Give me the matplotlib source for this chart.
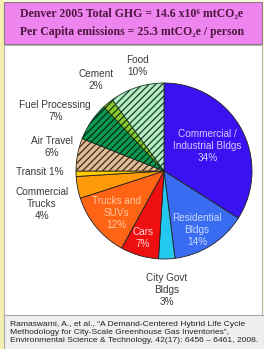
import matplotlib
matplotlib.use("Agg")
import matplotlib.pyplot as plt
from matplotlib.patches import Rectangle
import numpy as np

# ---- data ----
categories = ["Commercial /\nIndustrial Bldgs", "Residential\nBldgs", "City Govt\nBldgs", "Cars",
              "Trucks and\nSUVs", "Commercial\nTrucks", "Transit", "Air Travel",
              "Fuel Processing", "Cement", "Food"]
shares = [34, 14, 3, 7, 12, 4, 1, 6, 7, 2, 10]
title_lines = ["Denver 2005 Total GHG = 14.6 x10\u2076 mtCO\u2082e",
               "Per Capita emissions = 25.3 mtCO\u2082e / person"]
caption = ("Ramaswami, A., et al., \u201cA Demand-Centered Hybrid Life Cycle\n"
           "Methodology for City-Scale Greenhouse Gas Inventories\u201d,\n"
           "Environmental Science & Technology, 42(17): 6456 \u2013 6461, 2008.")

# ---- styles ----
colors = ["#3a12f2", "#3a6cf2", "#22c8ee", "#ee1010", "#ff6414", "#ff9a08", "#ffcc00",
          "#e2bc96", "#0a9a50", "#88cc30", "#b4ecc4"]
hatches = [None, None, None, None, None, None, None, "/////", "/////", "/////", "/////"]
hatch_cols = [None] * 7 + ["#3a2a1a", "#06281a", "#20300a", "#1a3a25"]
label_r = [0.57, 0.77, 1.35, 0.80, 0.72, 1.44, 1.41, 1.30, 1.41, 1.29, 1.23]
label_dang = [1.2, -3.2, -0.4, -1.2, 2.2, 4.3, -1.3, -1.3, 5.4, -2.8, -3.6]
label_col = ["#d4ccff", "#c8d8ff", "#3a3a3a", "#ffd0d0", "#ffc8a0", "#3a3a3a", "#3a3a3a",
             "#3a3a3a", "#3a3a3a", "#3a3a3a", "#3a3a3a"]

W, H = 264, 349
plt.rcParams['font.family'] = ['Liberation Sans', 'DejaVu Sans']
plt.rcParams['hatch.linewidth'] = 0.9
fig = plt.figure(figsize=(W / 100, H / 100), dpi=100)
fig.patch.set_facecolor("#fbf8dc")

def fx(x):
    return x / W

def fy(y):
    return 1 - y / H

# backgrounds
fig.patches.append(Rectangle((fx(0), fy(H)), fx(4), 1, transform=fig.transFigure,
                             facecolor="#f4eeb0", edgecolor="none", zorder=0))
fig.patches.append(Rectangle((fx(4), fy(315)), fx(258), (315 - 45) / H, transform=fig.transFigure,
                             facecolor="white", edgecolor="#b8b8b0", linewidth=0.8, zorder=1))
fig.patches.append(Rectangle((fx(4), fy(349)), fx(260), 34 / H, transform=fig.transFigure,
                             facecolor="#efefef", edgecolor="#a8a8a8", linewidth=0.8, zorder=1))
fig.patches.append(Rectangle((fx(4), fy(44)), fx(258), 42 / H, transform=fig.transFigure,
                             facecolor="#ee84ee", edgecolor="#8a7a8a", linewidth=0.8, zorder=2))

renderer = fig.canvas.get_renderer()
for i, (line, yy) in enumerate(zip(title_lines, [14, 32])):
    t = fig.text(0.5, fy(yy), line, ha="center", va="center", fontsize=7,
                 family=["Liberation Serif", "DejaVu Serif"], fontweight="bold",
                 color="#4e1640", zorder=3)
    w = t.get_window_extent(renderer).width
    t.set_fontsize(7 * (224 if i == 0 else 226) / w)

fig.text(fx(10), fy(332.5), caption, ha="left", va="center", fontsize=6.1,
         color="#222222", linespacing=1.25, zorder=3)

# pie axes
cx, cy, R = 164, 171, 88
ax = fig.add_axes([fx(cx - R), fy(cy + R), 2 * R / W, 2 * R / H])
ax.set_zorder(5)
wedges, _ = ax.pie(shares, colors=colors, startangle=90, counterclock=False, radius=1,
                   wedgeprops=dict(linewidth=0.6, edgecolor="#202020"))
for w, h, hc in zip(wedges, hatches, hatch_cols):
    if h:
        w.set_hatch(h)
        w.set_edgecolor(hc)
ax.set_xlim(-1, 1)
ax.set_ylim(-1, 1)
ax.set_aspect("equal")
ax.axis("off")

for w, lab, s, r, da, col in zip(wedges, categories, shares, label_r, label_dang, label_col):
    mid = np.deg2rad((w.theta1 + w.theta2) / 2 + da)
    txt = f"{lab} {s}%" if lab == "Transit" else f"{lab}\n{s}%"
    ax.text(r * np.cos(mid), r * np.sin(mid), txt, ha="center", va="center",
            fontsize=7.2, color=col, linespacing=1.25, clip_on=False, zorder=10)

fig.savefig("out.png", dpi=100, facecolor=fig.get_facecolor())
